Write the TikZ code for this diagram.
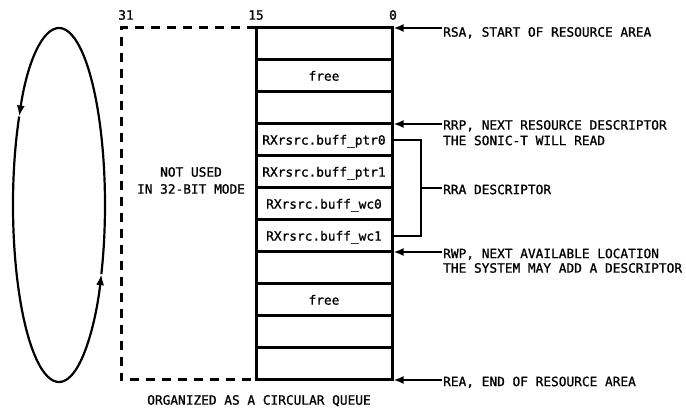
\documentclass[tikz,border=0pt]{standalone}
\usepackage{fontspec}
\setmainfont{DejaVu Sans Mono}[FakeBold=1]
\usetikzlibrary{arrows.meta,calc}
\begin{document}
\begin{tikzpicture}[x=1pt,y=1pt,
  every node/.style={font=\fontsize{12.8}{15}\selectfont, inner sep=0pt, text height=9.3pt, text depth=0pt},
  cell/.style={draw, line width=3pt, minimum width=136pt, minimum height=32pt, outer sep=0pt},
  lbl/.style={anchor=west},
  ptr/.style={line width=2pt, -{Latex[length=10pt,width=8pt]}},
  brk/.style={line width=2pt},
  unused/.style={line width=3pt, dash pattern=on 9pt off 7pt},
  loop/.style={line width=2.2pt},
  looparrow/.style={line width=2.2pt, -{Latex[length=11pt,width=8pt]}}]
\useasboundingbox (0,0) rectangle (686,410);
% table
\node[cell] (r1)  at (324,366) {};
\node[cell] (r2)  at (324,334) {free};
\node[cell] (r3)  at (324,302) {};
\node[cell] (r4)  at (324,270) {RXrsrc.buff\_ptr0};
\node[cell] (r5)  at (324,238) {RXrsrc.buff\_ptr1};
\node[cell] (r6)  at (324,206) {RXrsrc.buff\_wc0};
\node[cell] (r7)  at (324,174) {RXrsrc.buff\_wc1};
\node[cell] (r8)  at (324,142) {};
\node[cell] (r9)  at (324,110) {free};
\node[cell] (r10) at (324,78) {};
\node[cell] (r11) at (324,46) {};
% unused upper half
\draw[unused] (r1.north west) -- (121,382) -- (121,30) -- (r11.south west);
% bit numbers
\node (c31) at (126,395) {31};
\node (c15) at (256,395) {15};
\node (c0)  at (393,395) {0};
\node (nu1) at (191,238) {NOT USED};
\node (nu2) at (191,221) {IN 32-BIT MODE};
\node (org) at (259,10) {ORGANIZED AS A CIRCULAR QUEUE};
% pointer labels
\node[lbl] (rsa)  at (443,378) {RSA, START OF RESOURCE AREA};
\node[lbl] (rrp)  at (443,285) {RRP, NEXT RESOURCE DESCRIPTOR};
\node[lbl] (rrp2) at (443,269.5) {THE SONIC-T WILL READ};
\node[lbl] (rra)  at (443,220.5) {RRA DESCRIPTOR};
\node[lbl] (rwp)  at (443,156.5) {RWP, NEXT AVAILABLE LOCATION};
\node[lbl] (rwp2) at (443,142) {THE SYSTEM MAY ADD A DESCRIPTOR};
\node[lbl] (rea)  at (443,28.5) {REA, END OF RESOURCE AREA};
\draw[ptr] ([xshift=-1pt]rsa.west |- r1.north east) -- ([xshift=1.5pt]r1.north east);
\draw[ptr] ([xshift=-1pt]rrp.west |- r4.north east) -- ([xshift=1.5pt]r4.north east);
\draw[ptr] ([xshift=-1pt]rwp.west |- r8.north east) -- ([xshift=1.5pt]r8.north east);
\draw[ptr] ([xshift=-1pt]rea.west |- r11.south east) -- ([xshift=1.5pt]r11.south east);
% RRA bracket
\draw[brk] ([xshift=1.5pt]r4.east) -- (421,270) coordinate (b1) -- (421,174) coordinate (b2) -- ([xshift=1.5pt]r7.east);
\draw[brk] ($(b1)!0.5!(b2)$) -- ([xshift=-1pt]rra.west |- {$(b1)!0.5!(b2)$});
% circular queue loop
\coordinate (lc) at (59,205);
\draw[looparrow] ($(lc)+(90:46 and 177)$) arc[start angle=90, end angle=150, x radius=46, y radius=177];
\draw[looparrow] ($(lc)+(150:46 and 177)$) arc[start angle=150, end angle=337, x radius=46, y radius=177];
\draw[loop] ($(lc)+(337:46 and 177)$) arc[start angle=337, end angle=450, x radius=46, y radius=177];
\end{tikzpicture}
\end{document}
